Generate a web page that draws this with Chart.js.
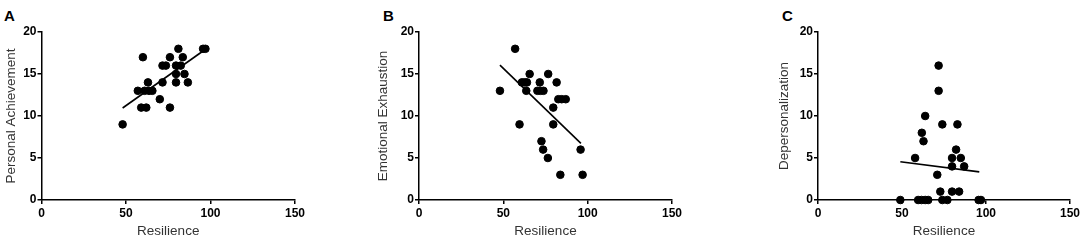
<!DOCTYPE html>
<html>
<head>
<meta charset="utf-8">
<script src="https://cdn.jsdelivr.net/npm/chart.js@4"></script>
<style>
body { margin: 0; background: #fff; width: 1084px; height: 241px; position: relative; overflow: hidden; font-family: "Liberation Sans", Arial, sans-serif; }
.panel { position: absolute; top: 0; }
.tag { position: absolute; top: 8px; font-size: 15px; line-height: 15px; font-weight: bold; color: #000; }
</style>
</head>
<body>
<div class="tag" style="left:4px">A</div>
<div class="tag" style="left:383px">B</div>
<div class="tag" style="left:782px">C</div>
<canvas id="chartA" class="panel" style="left:0px" width="315" height="241"></canvas>
<canvas id="chartB" class="panel" style="left:370px" width="322" height="241"></canvas>
<canvas id="chartC" class="panel" style="left:760px" width="324" height="241"></canvas>
<script>
// values
var resilienceA = [48, 60, 57, 59, 62, 61, 63.6, 65.6, 63, 70, 71.6, 71.6, 73.6, 76, 76, 81, 79.6, 82.4, 83.6, 79.6, 84.6, 79.6, 86.6, 95.6, 97];
var achievement = [9, 17, 13, 11, 11, 13, 13, 13, 14, 12, 14, 16, 16, 11, 17, 18, 16, 16, 17, 15, 15, 14, 14, 18, 18];
var fitAx = [48, 96];
var fitAy = [10.95, 17.8];

var resilienceB = [57, 48, 59.6, 65.6, 76.6, 61, 62.6, 64, 63.6, 71.6, 70.2, 72, 73.8, 81.6, 82.6, 84.6, 87, 79.6, 79.6, 72.6, 73.6, 76.4, 83.8, 97, 95.8];
var exhaustion = [18, 13, 9, 15, 15, 14, 14, 14, 13, 14, 13, 13, 13, 14, 12, 12, 12, 11, 9, 7, 6, 5, 3, 3, 6];
var fitBx = [48, 96];
var fitBy = [16.05, 6.75];

var resilienceC = [71.8, 71.8, 63.8, 61.8, 62.8, 74, 83, 82.2, 57.8, 79.8, 85, 79.8, 87, 71, 72.8, 79.8, 84, 49, 59.6, 61.6, 63.8, 65.6, 74, 77, 95.6, 97];
var depersonalization = [16, 13, 10, 8, 7, 9, 9, 6, 5, 5, 5, 4, 4, 3, 1, 1, 1, 0, 0, 0, 0, 0, 0, 0, 0, 0];
var fitCx = [49, 96];
var fitCy = [4.55, 3.35];

var xTicks = [0, 50, 100, 150];
var yTicks = [0, 5, 10, 15, 20];

Chart.defaults.font.family = "'Liberation Sans', Arial, sans-serif";

function pairs(xs, ys) {
    return xs.map((x, i) => ({x: x, y: ys[i]}));
}

function makePanel(id, xs, ys, fx, fy, yTitle, axisW, padRight, titlePad) {
    return new Chart(id, {
        type: "scatter",
        data: {
            datasets: [{
                data: pairs(xs, ys),
                backgroundColor: "#000",
                borderColor: "#000",
                pointRadius: 3.8,
                pointHoverRadius: 3.8,
                clip: false
            }, {
                data: pairs(fx, fy),
                showLine: true,
                borderColor: "#000",
                borderWidth: 1.6,
                pointRadius: 0,
                clip: false
            }]
        },
        options: {
            responsive: false,
            animation: false,
            layout: {padding: {top: 32, right: padRight, bottom: 0, left: 0}},
            plugins: {legend: {display: false}, tooltip: {enabled: false}},
            scales: {
                x: {
                    type: "linear",
                    min: xTicks[0],
                    max: xTicks[xTicks.length - 1],
                    afterBuildTicks: s => { s.ticks = xTicks.map(v => ({value: v})); },
                    ticks: {color: "#000", font: {size: 12, weight: "bold"}, padding: 2, maxRotation: 0},
                    grid: {drawOnChartArea: false, drawTicks: true, tickLength: 4, color: "#000", lineWidth: 1.5},
                    border: {display: true, color: "#000", width: 1.5},
                    title: {display: true, text: "Resilience", color: "#333", font: {size: 13.5}, padding: {top: 0, bottom: 2}},
                    afterFit: s => { s.height = 41; }
                },
                y: {
                    min: yTicks[0],
                    max: yTicks[yTicks.length - 1],
                    afterBuildTicks: s => { s.ticks = yTicks.map(v => ({value: v})); },
                    ticks: {color: "#000", font: {size: 12, weight: "bold"}, padding: 1},
                    grid: {drawOnChartArea: false, drawTicks: true, tickLength: 4, color: "#000", lineWidth: 1.5},
                    border: {display: true, color: "#000", width: 1.5},
                    title: {display: true, text: yTitle, color: "#333", font: {size: 13.5}, padding: {top: titlePad, bottom: 0}},
                    afterFit: s => { s.width = axisW; }
                }
            }
        }
    });
}

makePanel("chartA", resilienceA, achievement, fitAx, fitAy, "Personal Achievement", 41.5, 20, 3);
makePanel("chartB", resilienceB, exhaustion, fitBx, fitBy, "Emotional Exhaustion", 49, 20, 5);
makePanel("chartC", resilienceC, depersonalization, fitCx, fitCy, "Depersonalization", 58, 14, 16.5);
</script>
</body>
</html>
